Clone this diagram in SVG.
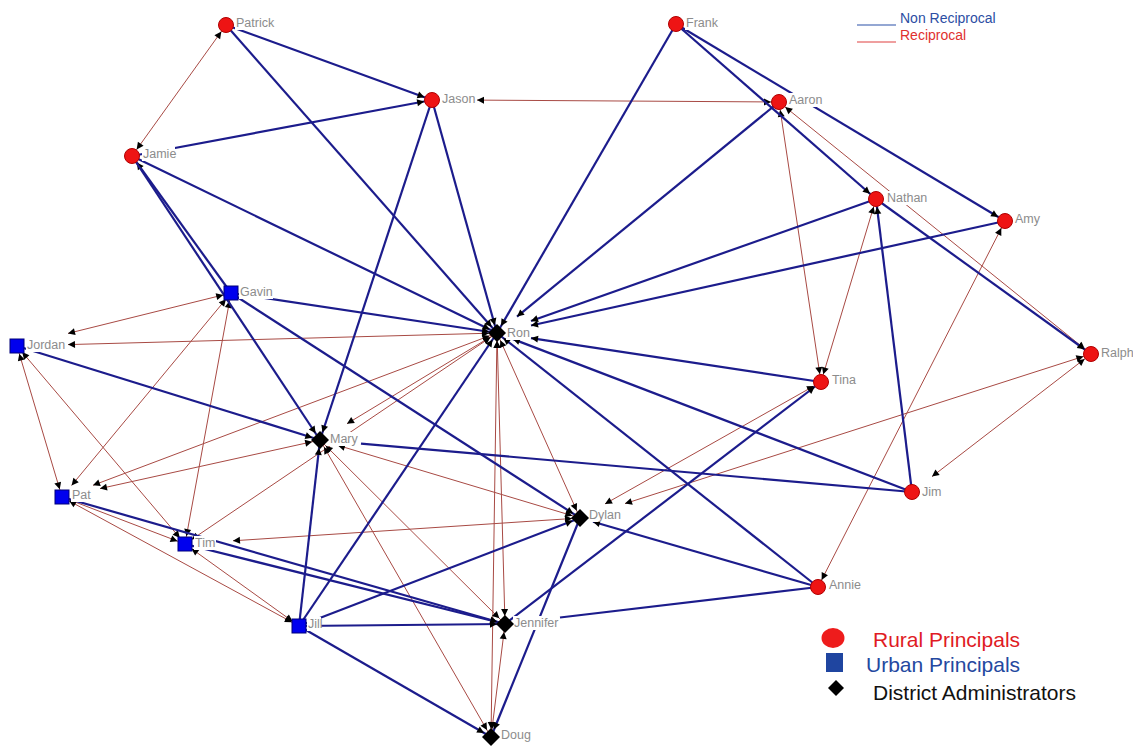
<svg xmlns="http://www.w3.org/2000/svg" width="1133" height="748" viewBox="0 0 1133 748">
<style>
.b{stroke:#1c1c8c;stroke-width:2.2;fill:none}
.r{stroke:#a84a44;stroke-width:1;fill:none}
.lb{fill:#fff}
.lt{font-family:"Liberation Sans",Arial,sans-serif;font-size:12.5px;fill:#8c8c8c}
.rc{fill:#ee1414;stroke:#b00000;stroke-width:1}
.sq{fill:#0000ee;stroke:#00007a;stroke-width:1}
.dm{fill:#000}
.lg{font-family:"Liberation Sans",Arial,sans-serif}
</style>
<defs>
<marker id="a" viewBox="-18 -5 19 10" refX="0" refY="0" markerWidth="19" markerHeight="10" markerUnits="userSpaceOnUse" orient="auto-start-reverse"><path d="M-8,0 L-15,-3.5 L-15,3.5 Z" fill="#000"/></marker>
<marker id="a0" viewBox="-18 -5 19 10" refX="0" refY="0" markerWidth="19" markerHeight="10" markerUnits="userSpaceOnUse" orient="auto-start-reverse"><path d="M0,0 L-7,-3.5 L-7,3.5 Z" fill="#000"/></marker>
</defs>
<rect width="1133" height="748" fill="#fff"/>
<g id="connectors">
<g id="reciprocal">
<line class="r" x1="226" y1="25" x2="132" y2="156" marker-start="url(#a)" marker-end="url(#a)"/>
<line class="r" x1="477" y1="100.1" x2="779" y2="102" marker-start="url(#a0)" marker-end="url(#a)"/>
<line class="r" x1="779" y1="102" x2="1091" y2="354" marker-start="url(#a)" marker-end="url(#a)"/>
<line class="r" x1="779" y1="102" x2="821" y2="382" marker-start="url(#a)" marker-end="url(#a)"/>
<line class="r" x1="876" y1="199" x2="821" y2="382" marker-start="url(#a)" marker-end="url(#a)"/>
<line class="r" x1="1005" y1="221" x2="818" y2="587" marker-start="url(#a)" marker-end="url(#a)"/>
<line class="r" x1="1091" y1="354" x2="625" y2="503.6" marker-start="url(#a)" marker-end="url(#a0)"/>
<line class="r" x1="1091" y1="354" x2="932" y2="476.6" marker-start="url(#a)" marker-end="url(#a0)"/>
<line class="r" x1="821" y1="382" x2="605" y2="503.9" marker-start="url(#a)" marker-end="url(#a0)"/>
<line class="r" x1="68" y1="333.4" x2="231" y2="293" marker-start="url(#a0)" marker-end="url(#a)"/>
<line class="r" x1="68" y1="344.6" x2="497" y2="333" marker-start="url(#a0)" marker-end="url(#a)"/>
<line class="r" x1="17" y1="346" x2="62" y2="497" marker-start="url(#a)" marker-end="url(#a)"/>
<line class="r" x1="17" y1="346" x2="185" y2="544" marker-start="url(#a)" marker-end="url(#a)"/>
<line class="r" x1="231" y1="293" x2="71.6" y2="485.4" marker-start="url(#a)" marker-end="url(#a0)"/>
<line class="r" x1="231" y1="293" x2="185" y2="544" marker-start="url(#a)" marker-end="url(#a)"/>
<line class="r" x1="497" y1="333" x2="93" y2="485.3" marker-start="url(#a)" marker-end="url(#a0)"/>
<line class="r" x1="497" y1="333" x2="347" y2="423.7" marker-start="url(#a)" marker-end="url(#a0)"/>
<line class="r" x1="497" y1="333" x2="185" y2="544" marker-start="url(#a)" marker-end="url(#a)"/>
<line class="r" x1="497" y1="333" x2="580" y2="518" marker-start="url(#a)" marker-end="url(#a)"/>
<line class="r" x1="497" y1="333" x2="505" y2="624" marker-start="url(#a)" marker-end="url(#a)"/>
<line class="r" x1="497" y1="333" x2="491" y2="737" marker-start="url(#a)" marker-end="url(#a)"/>
<line class="r" x1="320" y1="440" x2="100" y2="488.6" marker-start="url(#a)" marker-end="url(#a0)"/>
<line class="r" x1="338" y1="445.4" x2="580" y2="518" marker-start="url(#a0)" marker-end="url(#a)"/>
<line class="r" x1="320" y1="440" x2="505" y2="624" marker-start="url(#a)" marker-end="url(#a)"/>
<line class="r" x1="320" y1="440" x2="491" y2="737" marker-start="url(#a)" marker-end="url(#a)"/>
<line class="r" x1="233" y1="540.8" x2="580" y2="518" marker-start="url(#a0)" marker-end="url(#a)"/>
<line class="r" x1="62" y1="497" x2="185" y2="544" marker-start="url(#a)" marker-end="url(#a)"/>
<line class="r" x1="62" y1="497" x2="299" y2="626" marker-start="url(#a)" marker-end="url(#a)"/>
<line class="r" x1="185" y1="544" x2="299" y2="626" marker-start="url(#a)" marker-end="url(#a)"/>
<line class="r" x1="505" y1="624" x2="491" y2="737" marker-start="url(#a)" marker-end="url(#a)"/>
</g>
<g id="nonreciprocal">
<line class="b" x1="226" y1="25" x2="432" y2="100" marker-end="url(#a)"/>
<line class="b" x1="226" y1="25" x2="497" y2="333" marker-end="url(#a)"/>
<line class="b" x1="132" y1="156" x2="432" y2="100" marker-end="url(#a)"/>
<line class="b" x1="132" y1="156" x2="497" y2="333" marker-end="url(#a)"/>
<line class="b" x1="231" y1="293" x2="132" y2="156" marker-end="url(#a)"/>
<line class="b" x1="132" y1="156" x2="320" y2="440" marker-end="url(#a)"/>
<line class="b" x1="231" y1="293" x2="497" y2="333" marker-end="url(#a)"/>
<line class="b" x1="231" y1="293" x2="580" y2="518" marker-end="url(#a)"/>
<line class="b" x1="17" y1="346" x2="320" y2="440" marker-end="url(#a)"/>
<line class="b" x1="432" y1="100" x2="320" y2="440" marker-end="url(#a)"/>
<line class="b" x1="432" y1="100" x2="497" y2="333" marker-end="url(#a)"/>
<line class="b" x1="676" y1="24" x2="497" y2="333" marker-end="url(#a)"/>
<line class="b" x1="676" y1="24" x2="1005" y2="221" marker-end="url(#a)"/>
<line class="b" x1="676" y1="24" x2="876" y2="199" marker-end="url(#a)"/>
<line class="b" x1="779" y1="102" x2="517" y2="316.6" marker-end="url(#a0)"/>
<line class="b" x1="876" y1="199" x2="531" y2="321" marker-end="url(#a0)"/>
<line class="b" x1="1005" y1="221" x2="531" y2="325.5" marker-end="url(#a0)"/>
<line class="b" x1="876" y1="199" x2="1091" y2="354" marker-end="url(#a)"/>
<line class="b" x1="912" y1="492" x2="876" y2="199" marker-end="url(#a)"/>
<line class="b" x1="821" y1="382" x2="531" y2="338.1" marker-end="url(#a0)"/>
<line class="b" x1="505" y1="624" x2="821" y2="382" marker-end="url(#a)"/>
<line class="b" x1="912" y1="492" x2="513" y2="339.1" marker-end="url(#a0)"/>
<line class="b" x1="912" y1="492" x2="361" y2="443.6"/>
<line class="b" x1="818" y1="587" x2="497" y2="333" marker-end="url(#a)"/>
<line class="b" x1="818" y1="587" x2="593" y2="521.8" marker-end="url(#a0)"/>
<line class="b" x1="818" y1="587" x2="560" y2="617.5"/>
<line class="b" x1="299" y1="626" x2="497" y2="333" marker-end="url(#a)"/>
<line class="b" x1="299" y1="626" x2="320" y2="440" marker-end="url(#a)"/>
<line class="b" x1="299" y1="626" x2="580" y2="518" marker-end="url(#a)"/>
<line class="b" x1="299" y1="626" x2="505" y2="624" marker-end="url(#a)"/>
<line class="b" x1="299" y1="626" x2="491" y2="737" marker-end="url(#a)"/>
<line class="b" x1="580" y1="518" x2="491" y2="737" marker-end="url(#a)"/>
<line class="b" x1="62" y1="497" x2="505" y2="624" marker-end="url(#a)"/>
<line class="b" x1="185" y1="544" x2="505" y2="624" marker-end="url(#a)"/>
</g>
</g>
<g id="node-patrick"><rect class="lb" x="235" y="16" width="39" height="14"/><text class="lt" x="236" y="27">Patrick</text><circle class="rc" cx="226" cy="25" r="7.5"/></g>
<g id="node-jamie"><rect class="lb" x="142" y="147" width="33" height="14"/><text class="lt" x="143" y="158">Jamie</text><circle class="rc" cx="132" cy="156" r="7.5"/></g>
<g id="node-jason"><rect class="lb" x="441" y="92" width="35" height="14"/><text class="lt" x="442" y="103">Jason</text><circle class="rc" cx="432" cy="100" r="7.5"/></g>
<g id="node-frank"><rect class="lb" x="685" y="16" width="34" height="14"/><text class="lt" x="686" y="27">Frank</text><circle class="rc" cx="676" cy="24" r="7.5"/></g>
<g id="node-aaron"><rect class="lb" x="788" y="93" width="35" height="14"/><text class="lt" x="789" y="104">Aaron</text><circle class="rc" cx="779" cy="102" r="7.5"/></g>
<g id="node-nathan"><rect class="lb" x="886" y="191" width="42" height="14"/><text class="lt" x="887" y="202">Nathan</text><circle class="rc" cx="876" cy="199" r="7.5"/></g>
<g id="node-amy"><rect class="lb" x="1014" y="212" width="28" height="14"/><text class="lt" x="1015" y="223">Amy</text><circle class="rc" cx="1005" cy="221" r="7.5"/></g>
<g id="node-gavin"><rect class="lb" x="239" y="285" width="34" height="14"/><text class="lt" x="240" y="296">Gavin</text><rect class="sq" x="224" y="286" width="14" height="14"/></g>
<g id="node-jordan"><rect class="lb" x="26" y="338" width="40" height="14"/><text class="lt" x="27" y="349">Jordan</text><rect class="sq" x="10" y="339" width="14" height="14"/></g>
<g id="node-ron"><rect class="lb" x="506" y="326" width="23" height="14"/><text class="lt" x="507" y="337">Ron</text><path class="dm" d="M497,324 L506,333 L497,342 L488,333 Z"/></g>
<g id="node-ralph"><rect class="lb" x="1100" y="346" width="33" height="14"/><text class="lt" x="1101" y="357">Ralph</text><circle class="rc" cx="1091" cy="354" r="7.5"/></g>
<g id="node-tina"><rect class="lb" x="831" y="373" width="25" height="14"/><text class="lt" x="832" y="384">Tina</text><circle class="rc" cx="821" cy="382" r="7.5"/></g>
<g id="node-mary"><rect class="lb" x="329" y="432" width="31" height="14"/><text class="lt" x="330" y="443">Mary</text><path class="dm" d="M320,431 L329,440 L320,449 L311,440 Z"/></g>
<g id="node-jim"><rect class="lb" x="921" y="485" width="21" height="14"/><text class="lt" x="922" y="496">Jim</text><circle class="rc" cx="912" cy="492" r="7.5"/></g>
<g id="node-pat"><rect class="lb" x="71" y="488" width="22" height="14"/><text class="lt" x="72" y="499">Pat</text><rect class="sq" x="55" y="490" width="14" height="14"/></g>
<g id="node-dylan"><rect class="lb" x="588" y="508" width="33" height="14"/><text class="lt" x="589" y="519">Dylan</text><path class="dm" d="M580,509 L589,518 L580,527 L571,518 Z"/></g>
<g id="node-tim"><rect class="lb" x="194" y="536" width="22" height="14"/><text class="lt" x="195" y="547">Tim</text><rect class="sq" x="178" y="537" width="14" height="14"/></g>
<g id="node-annie"><rect class="lb" x="828" y="578" width="32" height="14"/><text class="lt" x="829" y="589">Annie</text><circle class="rc" cx="818" cy="587" r="7.5"/></g>
<g id="node-jill"><rect class="lb" x="307" y="617" width="14" height="14"/><text class="lt" x="308" y="628">Jill</text><rect class="sq" x="292" y="619" width="14" height="14"/></g>
<g id="node-jennifer"><rect class="lb" x="513" y="616" width="46" height="14"/><text class="lt" x="514" y="627">Jennifer</text><path class="dm" d="M505,615 L514,624 L505,633 L496,624 Z"/></g>
<g id="node-doug"><rect class="lb" x="500" y="728" width="32" height="14"/><text class="lt" x="501" y="739">Doug</text><path class="dm" d="M491,728 L500,737 L491,746 L482,737 Z"/></g>
<g id="legend-top">
<line x1="857" y1="25" x2="896" y2="25" stroke="#2a50a8" stroke-width="1.2"/>
<text class="lg" x="900" y="23" font-size="14" fill="#2c4ea3">Non Reciprocal</text>
<line x1="857" y1="42" x2="896" y2="42" stroke="#e04040" stroke-width="1.2"/>
<text class="lg" x="900" y="40" font-size="14" fill="#e0302e">Reciprocal</text>
</g>
<g id="legend-bottom">
<ellipse cx="833" cy="638" rx="11.5" ry="10" fill="#ee1c1c"/>
<text class="lg" x="873" y="647" font-size="21" fill="#e01b24">Rural Principals</text>
<rect x="826" y="653" width="17" height="19" fill="#1f45a0"/>
<text class="lg" x="866" y="672" font-size="21" fill="#2448a0">Urban Principals</text>
<path d="M836,680 L844,688 L836,696 L828,688 Z" fill="#000"/>
<text class="lg" x="873" y="700" font-size="21" fill="#111">District Administrators</text>
</g>
</svg>
